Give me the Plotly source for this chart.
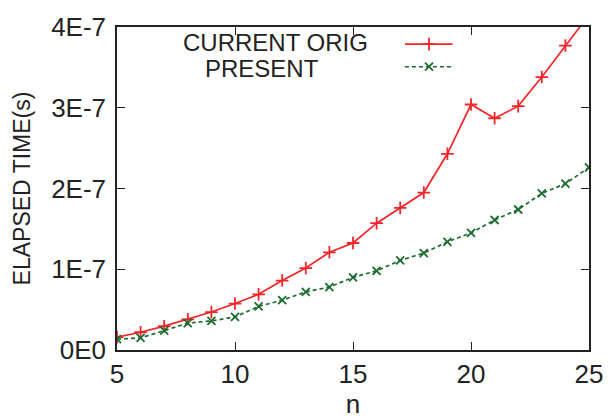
import plotly.graph_objects as go

n = list(range(5, 26))
current_orig = [1.6e-8, 2.2e-8, 2.95e-8, 3.8e-8, 4.7e-8, 5.75e-8, 6.9e-8, 8.6e-8, 1.015e-7,
                1.21e-7, 1.325e-7, 1.57e-7, 1.76e-7, 1.95e-7, 2.43e-7, 3.04e-7, 2.87e-7,
                3.02e-7, 3.38e-7, 3.77e-7, 4.15e-7]
present = [1.35e-8, 1.5e-8, 2.4e-8, 3.33e-8, 3.6e-8, 4.1e-8, 5.4e-8, 6.17e-8, 7.2e-8,
           7.8e-8, 9.0e-8, 9.8e-8, 1.11e-7, 1.2e-7, 1.34e-7, 1.45e-7, 1.61e-7, 1.74e-7,
           1.94e-7, 2.06e-7, 2.26e-7]
series_names = ["CURRENT ORIG", "PRESENT"]
y_tickvals = [0, 1e-7, 2e-7, 3e-7, 4e-7]
y_ticktext = ["0E0", "1E-7", "2E-7", "3E-7", "4E-7"]
x_tickvals = [5, 10, 15, 20, 25]

RED = "#f0262a"
GREEN = "#1c6b30"
FONT = "Liberation Sans, Arial, sans-serif"
TXT = "#222222"

fig = go.Figure()
fig.add_trace(go.Scatter(x=n, y=current_orig, mode="lines+markers", name=series_names[0],
                         line=dict(color=RED, width=1.7),
                         marker=dict(symbol="cross-thin", size=9, line=dict(color=RED, width=1.8))))
fig.add_trace(go.Scatter(x=n, y=present, mode="lines+markers", name=series_names[1],
                         line=dict(color=GREEN, width=1.7, dash="4px,3px"),
                         marker=dict(symbol="x-thin", size=8, line=dict(color=GREEN, width=1.8))))

# legend keys (gnuplot style: text left, sample right) on an overlay unit axis
key_x = [0.610, 0.661, 0.711]
key_rows = [0.947, 0.877]
text_x = [0.335, 0.308]
text_rows = [0.951, 0.873]
fig.add_trace(go.Scatter(x=key_x, y=[key_rows[0]] * 3, xaxis="x2", yaxis="y2", mode="lines",
                         line=dict(color=RED, width=1.7), showlegend=False, hoverinfo="skip"))
fig.add_trace(go.Scatter(x=[key_x[1]], y=[key_rows[0]], xaxis="x2", yaxis="y2", mode="markers",
                         marker=dict(symbol="cross-thin", size=9, line=dict(color=RED, width=1.8)),
                         showlegend=False, hoverinfo="skip"))
fig.add_trace(go.Scatter(x=key_x, y=[key_rows[1]] * 3, xaxis="x2", yaxis="y2", mode="lines",
                         line=dict(color=GREEN, width=1.7, dash="4px,3px"), showlegend=False, hoverinfo="skip"))
fig.add_trace(go.Scatter(x=[key_x[1]], y=[key_rows[1]], xaxis="x2", yaxis="y2", mode="markers",
                         marker=dict(symbol="x-thin", size=8, line=dict(color=GREEN, width=1.8)),
                         showlegend=False, hoverinfo="skip"))
for name, xr, yr in zip(series_names, text_x, text_rows):
    fig.add_annotation(x=xr, y=yr, xref="x2", yref="y2", text=name, showarrow=False,
                       xanchor="center", yanchor="middle", font=dict(size=24, color=TXT, family=FONT))

fig.update_layout(
    width=616, height=419,
    margin=dict(l=117, r=27, t=18, b=48),
    paper_bgcolor="white", plot_bgcolor="white",
    showlegend=False,
    font=dict(family=FONT, size=26, color=TXT),
    xaxis=dict(range=[5, 25], tickvals=x_tickvals, ticks="inside", ticklen=8, tickcolor="#222",
               showline=True, linecolor="#222", linewidth=1.5, mirror="ticks", showgrid=False,
               zeroline=False, tickfont=dict(size=26),
               title=dict(text="n", standoff=0, font=dict(size=26))),
    yaxis=dict(range=[0, 4e-7], tickvals=y_tickvals, ticktext=y_ticktext, ticks="inside", ticklen=8,
               tickcolor="#222", showline=True, linecolor="#222", linewidth=1.5, mirror="ticks",
               showgrid=False, zeroline=False, tickfont=dict(size=26), ticklabelstandoff=4,
               title=dict(text="ELAPSED TIME(s)", standoff=14, font=dict(size=23))),
    xaxis2=dict(overlaying="x", range=[0, 1], visible=False),
    yaxis2=dict(overlaying="y", range=[0, 1], visible=False),
)

fig.write_html("out.html")
